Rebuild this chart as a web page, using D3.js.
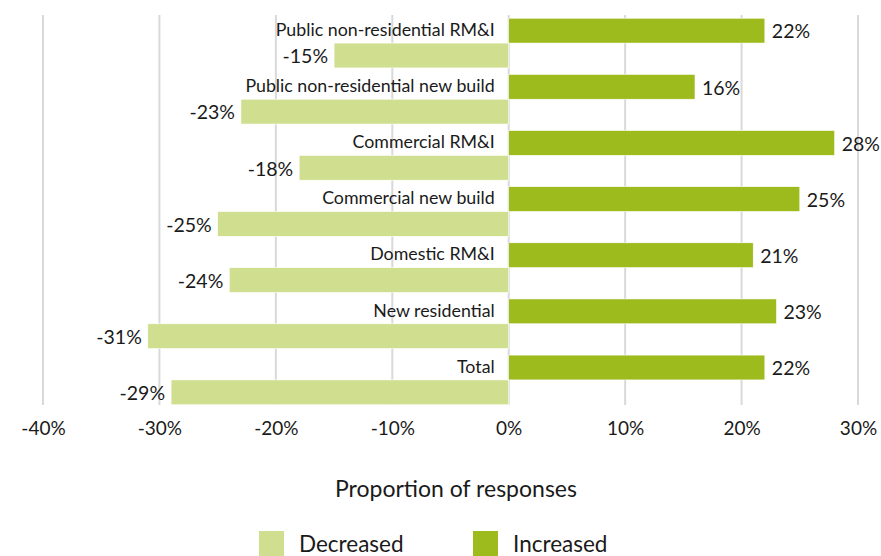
<!DOCTYPE html>
<html>
<head>
<meta charset="utf-8">
<script src="https://cdn.jsdelivr.net/npm/d3@7"></script>
<style>
  html, body { margin: 0; padding: 0; background: #fff; }
  svg text { font-family: "Source Sans Pro", Lato, "Noto Sans", sans-serif; fill: #1a1a1a; }
</style>
</head>
<body>
<svg id="chart" width="881" height="556"></svg>
<script>
// Survey categories, top to bottom
const categories = [
  "Public non-residential RM&I",
  "Public non-residential new build",
  "Commercial RM&I",
  "Commercial new build",
  "Domestic RM&I",
  "New residential",
  "Total"
];
// Share of responses reporting an increase / decrease (%)
const increased = [22, 16, 28, 25, 21, 23, 22];
const decreased = [-15, -23, -18, -25, -24, -31, -29];
const tickValues = [-40, -30, -20, -10, 0, 10, 20, 30];
const seriesNames = ["Decreased", "Increased"];
const colours = { Decreased: "#d0df8f", Increased: "#9dbb1c" };

const svg = d3.select("#chart");

const x = d3.scaleLinear().domain([-40, 30]).range([43, 858]);
const y = d3.scaleBand().domain(categories).range([15, 408]).paddingInner(0).paddingOuter(0);
const inner = d3.scaleBand().domain(["Increased", "Decreased"]).range([0, y.bandwidth()]).paddingInner(0).paddingOuter(0.13);

// vertical gridlines
svg.append("g")
  .selectAll("line")
  .data(tickValues)
  .join("line")
  .attr("x1", d => x(d)).attr("x2", d => x(d))
  .attr("y1", 15).attr("y2", 405)
  .attr("stroke", "#d9d9d9").attr("stroke-width", 2);

// axis tick labels
const axis = d3.axisBottom(x).tickValues(tickValues).tickFormat(d => d + "%").tickSize(0).tickPadding(0);
const axisG = svg.append("g").attr("transform", "translate(0,421)").call(axis);
axisG.select(".domain").remove();
axisG.selectAll("text").attr("font-size", 19).attr("dy", "0.75em").style("font-family", null);

const rows = categories.map((c, i) => ({ cat: c, inc: increased[i], dec: decreased[i] }));
const g = svg.append("g");

// increased bars
g.selectAll(".inc").data(rows).join("rect")
  .attr("class", "inc")
  .attr("x", x(0))
  .attr("y", d => y(d.cat) + inner("Increased"))
  .attr("width", d => x(d.inc) - x(0))
  .attr("height", inner.bandwidth())
  .attr("fill", colours.Increased)
  .attr("stroke", "#fff").attr("stroke-width", 0.6);

// decreased bars
g.selectAll(".dec").data(rows).join("rect")
  .attr("class", "dec")
  .attr("x", d => x(d.dec))
  .attr("y", d => y(d.cat) + inner("Decreased"))
  .attr("width", d => x(0) - x(d.dec))
  .attr("height", inner.bandwidth())
  .attr("fill", colours.Decreased)
  .attr("stroke", "#fff").attr("stroke-width", 0.6);

// category labels, right-aligned against zero line
g.selectAll(".cat").data(rows).join("text")
  .attr("class", "cat")
  .attr("x", x(0) - 14)
  .attr("y", d => y(d.cat) + inner("Increased") + inner.bandwidth() / 2 - 1)
  .attr("dy", "0.35em")
  .attr("text-anchor", "end")
  .attr("font-size", 17.8)
  .text(d => d.cat);

// value labels
g.selectAll(".incLab").data(rows).join("text")
  .attr("class", "incLab")
  .attr("x", d => x(d.inc) + 7)
  .attr("y", d => y(d.cat) + inner("Increased") + inner.bandwidth() / 2 + 1)
  .attr("dy", "0.35em")
  .attr("font-size", 19.5)
  .text(d => d.inc + "%");

g.selectAll(".decLab").data(rows).join("text")
  .attr("class", "decLab")
  .attr("x", d => x(d.dec) - 6)
  .attr("y", d => y(d.cat) + inner("Decreased") + inner.bandwidth() / 2 + 1)
  .attr("dy", "0.35em")
  .attr("text-anchor", "end")
  .attr("font-size", 19.5)
  .text(d => d.dec + "%");

// axis title
svg.append("text")
  .attr("x", 456).attr("y", 489)
  .attr("dy", "0.35em")
  .attr("text-anchor", "middle")
  .attr("font-size", 23)
  .text("Proportion of responses");

// legend
const legendX = [259, 473];
const leg = svg.append("g").selectAll("g").data(seriesNames).join("g")
  .attr("transform", (d, i) => `translate(${legendX[i]},531)`);
leg.append("rect").attr("width", 25).attr("height", 25).attr("fill", d => colours[d]);
leg.append("text").attr("x", 40).attr("y", 13).attr("dy", "0.35em")
  .attr("font-size", 22.5).text(d => d);
</script>
</body>
</html>
